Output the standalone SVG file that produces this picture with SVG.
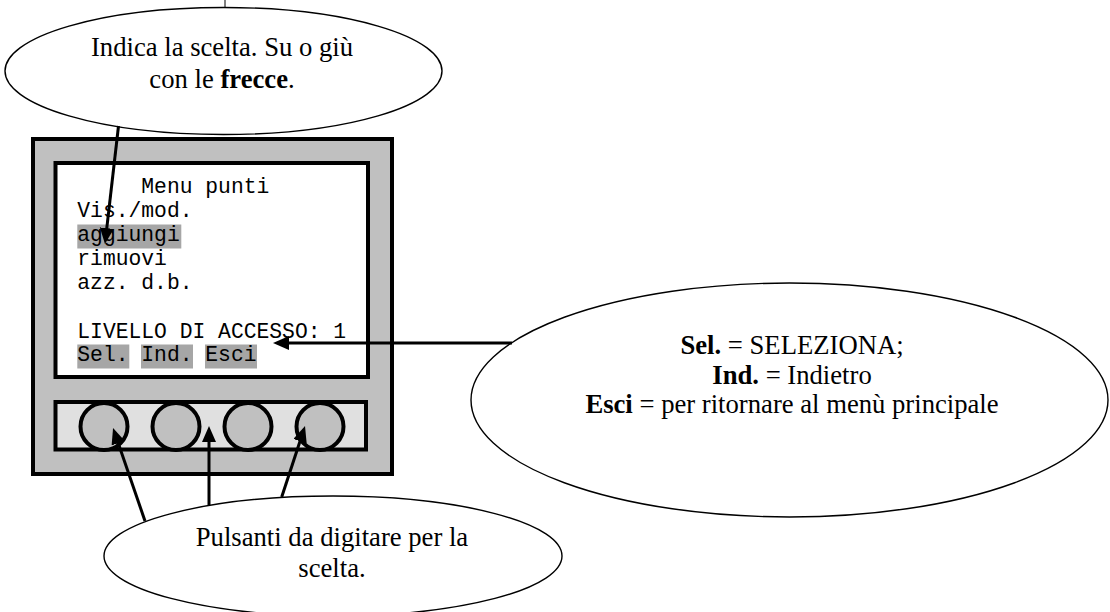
<svg xmlns="http://www.w3.org/2000/svg" width="1110" height="612" viewBox="0 0 1110 612">
<style>
.ell{fill:#fff;stroke:#000;stroke-width:1.4}
.tx{font-family:"Liberation Serif","Times New Roman",serif;font-size:26.67px;fill:#000;text-anchor:middle}
.b{font-weight:bold}
.mono{font-family:"Liberation Mono","Courier New",monospace;font-size:21.33px;fill:#000}
.hl{fill:#a6a6a6}
.con{stroke:#000;stroke-width:3;fill:none;marker-end:url(#ah)}
</style>
<defs>
<marker id="ah" markerUnits="userSpaceOnUse" markerWidth="17" markerHeight="15" refX="6" refY="7" orient="auto" viewBox="0 0 17 15">
<path d="M0,0 L16,7 L0,14 z" fill="#000"/>
</marker>
</defs>
<rect width="1110" height="612" fill="#fff"/>
<g id="device">
<rect x="33" y="139" width="359" height="335" fill="#c0c0c0" stroke="#000" stroke-width="4"/>
<rect x="55.5" y="163" width="312.5" height="214" fill="#fff" stroke="#000" stroke-width="4"/>
<rect class="hl" x="77.3" y="224.5" width="104" height="24"/>
<rect class="hl" x="77.3" y="344.5" width="52" height="24"/>
<rect class="hl" x="141" y="344.5" width="52" height="24"/>
<rect class="hl" x="205" y="344.5" width="52" height="24"/>
<text class="mono" x="141.3" y="193">Menu punti</text>
<text class="mono" x="77.3" y="217">Vis./mod.</text>
<text class="mono" x="77.3" y="241">aggiungi</text>
<text class="mono" x="77.3" y="265">rimuovi</text>
<text class="mono" x="77.3" y="289">azz. d.b.</text>
<text class="mono" x="77.3" y="337.5">LIVELLO DI ACCESSO: 1</text>
<text class="mono" x="77.3" y="361">Sel. Ind. Esci</text>
<rect x="55.5" y="402" width="310.5" height="47.5" fill="#e0e0e0" stroke="#000" stroke-width="4"/>
<circle cx="104" cy="426.5" r="23.5" fill="#c0c0c0" stroke="#000" stroke-width="4"/>
<circle cx="176" cy="426.5" r="23.5" fill="#c0c0c0" stroke="#000" stroke-width="4"/>
<circle cx="248" cy="426.5" r="23.5" fill="#c0c0c0" stroke="#000" stroke-width="4"/>
<circle cx="320" cy="426.5" r="23.5" fill="#c0c0c0" stroke="#000" stroke-width="4"/>
</g>
<g id="callout-top">
<line x1="225" y1="0" x2="225" y2="8" stroke="#000" stroke-width="1"/>
<ellipse class="ell" cx="223.5" cy="71" rx="218.5" ry="63.5"/>
<text class="tx" x="222" y="56">Indica la scelta. Su o giù</text>
<text class="tx" x="222" y="88">con le <tspan class="b">frecce</tspan>.</text>
</g>
<g id="callout-right">
<ellipse class="ell" cx="789.5" cy="400" rx="318.5" ry="117"/>
<text class="tx" x="792" y="354"><tspan class="b">Sel.</tspan> = SELEZIONA;</text>
<text class="tx" x="792" y="383.5"><tspan class="b">Ind.</tspan> = Indietro</text>
<text class="tx" x="792" y="413"><tspan class="b">Esci</tspan> = per ritornare al menù principale</text>
</g>
<g id="callout-bottom">
<ellipse class="ell" cx="333" cy="556" rx="229" ry="60"/>
<text class="tx" x="332" y="546">Pulsanti da digitare per la</text>
<text class="tx" x="332" y="576.7">scelta.</text>
</g>
<g id="connectors">
<line class="con" x1="118.5" y1="126" x2="106.1" y2="234.1"/>
<line class="con" x1="512" y1="343" x2="283" y2="343"/>
<line class="con" x1="145" y1="521" x2="116.3" y2="437.5"/>
<line class="con" x1="209" y1="505" x2="209" y2="436"/>
<line class="con" x1="281.7" y1="497" x2="301.9" y2="435.5"/>
</g>
</svg>
